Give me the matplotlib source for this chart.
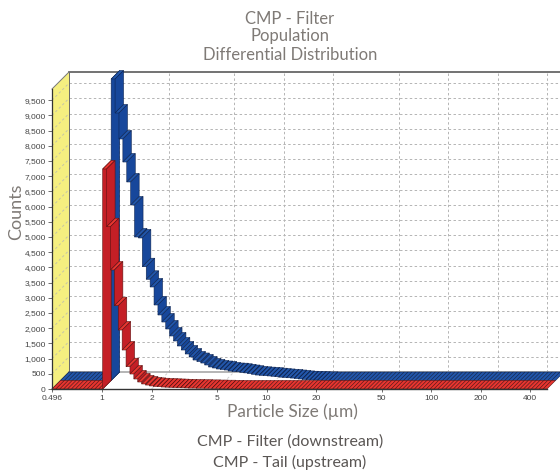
import numpy as np
import matplotlib
matplotlib.use('Agg')
import matplotlib.pyplot as plt
from matplotlib.patches import Polygon
from matplotlib.transforms import IdentityTransform

n_bins = 127
x_min = 0.496
x_max = 507
y_top = 9868

# counts, bin by bin (the bins below 1 um are empty)
filter_head = [9918, 8799, 7944, 7187, 6530, 5773, 4720, 4688, 3743, 3329,
               3076, 2484, 2155, 1924, 1694, 1464, 1299, 1135, 1003, 872,
               773, 674, 625, 575, 510, 444, 411, 378, 362, 345,
               312, 296, 290, 270, 250, 230, 205, 180, 170, 160,
               150, 140, 125, 110, 100, 90, 80, 65, 50, 35,
               25, 20, 15, 10, 5, 5]
tail_head = [7237, 5339, 3914, 2740, 1940, 1283, 733, 493, 329, 230,
             165, 130, 100, 85, 75, 65, 60, 55, 50, 45,
             40, 35, 30, 30, 25, 25, 20, 20, 15, 15,
             10, 10, 5, 5]
empty_bins = 13
filter_counts = [0] * empty_bins + filter_head + [0] * (n_bins - empty_bins - len(filter_head))
tail_counts = [0] * empty_bins + tail_head + [0] * (n_bins - empty_bins - len(tail_head))

x_ticks = [0.496, 1, 2, 5, 10, 20, 50, 100, 200, 400]
x_labels = ['0.496', '1', '2', '5', '10', '20', '50', '100', '200', '400']
y_ticks = list(range(0, 10000, 500))

title_lines = ['CMP - Filter', 'Population', 'Differential Distribution']
legend_lines = ['CMP - Filter (downstream)', 'CMP - Tail (upstream)']

W, H = 560, 475
depth = 17
ribbon = 8.5
text_font = ['Lato', 'DejaVu Sans']
grey_text = '#7f7a76'

fig = plt.figure(figsize=(W / 100, H / 100), dpi=100)
ax = fig.add_axes([52 / W, 1 - 389 / H, (547 - 52) / W, 300 / H])
ax.set_xscale('log')
ax.set_xlim(x_min, x_max)
ax.set_ylim(0, y_top)
for s in ax.spines.values():
    s.set_visible(False)
ax.patch.set_visible(False)
ax.minorticks_off()
ax.set_xticks(x_ticks)
ax.set_xticklabels(x_labels, fontsize=6, color='#444444', family='Liberation Sans')
ax.set_yticks(y_ticks)
ax.set_yticklabels([f'{v:,}' for v in y_ticks], fontsize=6, color='#444444', family='Liberation Sans')
ax.tick_params(axis='x', which='both', length=2, width=0.6, pad=2, color='#555555')
ax.tick_params(axis='y', which='both', length=3, width=0.6, pad=1.5, color='#555555')


def px(x, y, d=0):
    # data position -> display pixels, pushed d pixels back in depth
    p = ax.transData.transform((x, y))
    return p[0] + d, p[1] + d


def poly(pts, face, edge='none', lw=0.0, z=2):
    ax.add_patch(Polygon(pts, closed=True, facecolor=face, edgecolor=edge, linewidth=lw,
                         transform=IdentityTransform(), clip_on=False, zorder=z))


def line(a, b, color, lw=0.7, ls='-', z=1):
    ax.plot([a[0], b[0]], [a[1], b[1]], color=color, lw=lw, ls=ls,
            transform=IdentityTransform(), clip_on=False, zorder=z)


dash = (0, (2.5, 2.5))
grid_c = '#b4b4b4'

# left wall
poly([px(x_min, 0), px(x_min, y_top), px(x_min, y_top, depth), px(x_min, 0, depth)],
     '#f5ef80', z=0.5)
for v in y_ticks[1:]:
    line(px(x_min, v), px(x_min, v, depth), '#c4c4a8', ls=dash)
    a = px(x_min, v, depth)
    line(a, (W + 5, a[1]), grid_c, ls=dash)

# back wall verticals and the floor diagonals
for t in x_ticks[1:]:
    line(px(t, 0, depth), px(t, y_top, depth), grid_c, ls=dash)
    line(px(t, 0), px(t, 0, depth), '#d0d0d0', ls=dash)

a = px(x_min, y_top, depth)
line(a, (W + 5, a[1]), '#5a5a5a', lw=1.2, z=1.5)
a = px(x_min, 0, depth)
line(a, (W + 5, a[1]), '#a8a8a8', lw=1.2, z=1.5)
line(px(x_min, 0, depth), px(x_min, y_top, depth), '#666666', lw=0.7, z=1.5)
line(px(x_min, y_top), px(x_min, y_top, depth), '#777777', lw=0.7, z=1.5)
line(px(x_min, 0), px(x_min, 0, depth), '#555555', lw=0.7, z=1.5)

edges = np.geomspace(x_min, x_max, n_bins + 1)


def draw_ribbon(counts, d0, d1, top_c, side_c, edge_c, z):
    prev = 0
    for i, v in enumerate(counts):
        z += 0.001
        x0, x1 = edges[i], edges[i + 1]
        if v != prev:
            poly([px(x0, prev, d0), px(x0, prev, d1), px(x0, v, d1), px(x0, v, d0)],
                 side_c, edge_c, 0.4, z)
        z += 0.001
        poly([px(x0, v, d0), px(x1, v, d0), px(x1, v, d1), px(x0, v, d1)],
             top_c, edge_c, 0.4, z)
        prev = v


draw_ribbon(filter_counts, ribbon, depth, '#2256aa', '#17479b', '#0c2350', 3)
draw_ribbon(tail_counts, 0, ribbon, '#e8352f', '#c41f26', '#5c1212', 4)

# front edges on top of everything
line(px(x_min, 0), px(x_max, 0), '#333333', lw=1.0, z=6)
line(px(x_min, 0), px(x_min, y_top), '#333333', lw=0.9, z=6)

for t, y in zip(title_lines, [18.5, 36.5, 55.5]):
    fig.text(290 / W, 1 - y / H, t, ha='center', va='center', fontsize=12,
             color=grey_text, family=text_font)
fig.text(16 / W, 1 - 212 / H, 'Counts', rotation=90, ha='center', va='center', fontsize=13,
         color=grey_text, family=text_font)
fig.text(292 / W, 1 - 412 / H, 'Particle Size (µm)', ha='center', va='center', fontsize=12.4,
         color=grey_text, family=text_font)
for t, y in zip(legend_lines, [442, 462]):
    fig.text(290 / W, 1 - y / H, t, ha='center', va='center', fontsize=11.5,
             color='#5a5654', family=text_font)

fig.savefig('out.png', dpi=100, facecolor='white')
